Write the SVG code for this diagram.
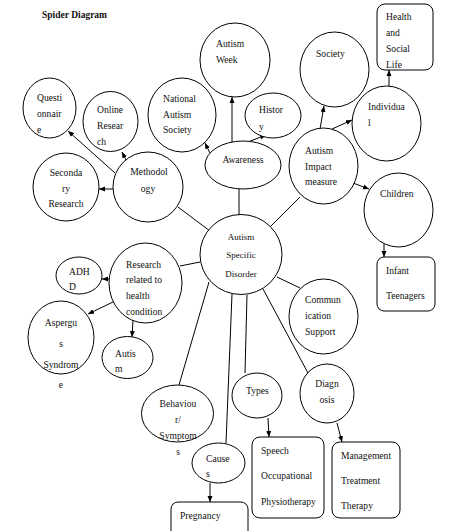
<svg xmlns="http://www.w3.org/2000/svg" width="457" height="531" viewBox="0 0 457 531">
<defs>
<marker id="ah" markerUnits="userSpaceOnUse" markerWidth="6" markerHeight="6" refX="6" refY="3" orient="auto">
<path d="M0,0.5 L6,3 L0,5.5 z" fill="#000"/>
</marker>
<style>
.n ellipse,.n rect{fill:#fff;stroke:#000;stroke-width:1}
text{font-family:"Liberation Serif","Times New Roman",serif;font-size:9.6px;fill:#111}
.c line{stroke:#000;stroke-width:1}
.c line.a{marker-end:url(#ah)}
.m{text-anchor:middle}
</style>
</defs>
<rect width="457" height="531" fill="#fff"/>
<text x="42" y="18" style="font-weight:bold;font-size:9.5px">Spider Diagram</text>

<g class="c" id="connectors">
<line x1="178" y1="207" x2="210" y2="231"/>
<line x1="239" y1="189" x2="239" y2="215"/>
<line x1="300" y1="197" x2="270" y2="227"/>
<line x1="277" y1="277" x2="300" y2="288"/>
<line x1="263" y1="289" x2="308" y2="373"/>
<line x1="247" y1="295" x2="245" y2="373"/>
<line x1="232" y1="294" x2="226" y2="443"/>
<line x1="209" y1="282" x2="179" y2="385"/>
<line x1="200" y1="262" x2="180" y2="266"/>
<line class="a" x1="115" y1="173" x2="68" y2="131"/>
<line class="a" x1="126" y1="160" x2="122" y2="152"/>
<line class="a" x1="113" y1="189" x2="99" y2="189"/>
<line class="a" x1="210" y1="153" x2="205" y2="143"/>
<line class="a" x1="232" y1="142" x2="232" y2="97"/>
<line class="a" x1="248" y1="142" x2="266" y2="135"/>
<line class="a" x1="320" y1="129" x2="324" y2="106"/>
<line class="a" x1="332" y1="129" x2="352" y2="120"/>
<line class="a" x1="353" y1="183" x2="369" y2="189"/>
<line class="a" x1="389" y1="86" x2="389" y2="70"/>
<line class="a" x1="384" y1="242" x2="384" y2="257"/>
<line class="a" x1="109" y1="279" x2="102" y2="279"/>
<line class="a" x1="113" y1="302" x2="88" y2="314"/>
<line class="a" x1="133" y1="320" x2="132" y2="337"/>
<line class="a" x1="268" y1="418" x2="269" y2="437"/>
<line class="a" x1="337" y1="423" x2="342" y2="442"/>
<line class="a" x1="210" y1="483" x2="210" y2="502"/>
</g>

<g class="n" id="questionnaire"><ellipse cx="49.5" cy="108" rx="26.5" ry="30"/><text x="37" y="101">Questi</text><text x="37" y="117">onnair</text><text x="37" y="133">e</text></g>
<g class="n" id="online-research"><ellipse cx="110.5" cy="121.5" rx="27.5" ry="30"/><text x="97" y="113">Online</text><text x="97" y="129">Resear</text><text x="97" y="145">ch</text></g>
<g class="n" id="national-autism-society"><ellipse cx="182" cy="115" rx="34" ry="37"/><text x="163" y="102">National</text><text x="163" y="118">Autism</text><text x="163" y="133">Society</text></g>
<g class="n" id="secondary-research"><ellipse cx="66" cy="187" rx="33" ry="34"/><text class="m" x="66" y="176">Seconda</text><text class="m" x="66" y="192">ry</text><text class="m" x="66" y="207">Research</text></g>
<g class="n" id="methodology"><ellipse cx="148" cy="187" rx="35" ry="35"/><text class="m" x="149" y="175">Methodol</text><text class="m" x="148" y="192">ogy</text></g>
<g class="n" id="autism-week"><ellipse cx="235" cy="60" rx="35" ry="37"/><text x="216" y="47">Autism</text><text x="216" y="63">Week</text></g>
<g class="n" id="history"><ellipse cx="273" cy="115.5" rx="28" ry="22.5"/><text x="259" y="113">Histor</text><text x="259" y="130">y</text></g>
<g class="n" id="awareness"><ellipse cx="243" cy="165" rx="38" ry="24"/><text class="m" x="243" y="163">Awareness</text></g>
<g class="n" id="society"><ellipse cx="334.5" cy="69.5" rx="34.5" ry="37.5"/><text x="316" y="57">Society</text></g>
<g class="n" id="individual"><ellipse cx="386.5" cy="123.5" rx="34.5" ry="37.5"/><text x="368" y="110">Individua</text><text x="368" y="126">l</text></g>
<g class="n" id="health-social-life"><rect x="377" y="4" width="56" height="66" rx="8"/><text x="386" y="20">Health</text><text x="386" y="36">and</text><text x="386" y="52">Social</text><text x="386" y="68">Life</text></g>
<g class="n" id="autism-impact-measure"><ellipse cx="323.5" cy="166" rx="34.5" ry="38"/><text x="305" y="154">Autism</text><text x="305" y="170">Impact</text><text x="305" y="185">measure</text></g>
<g class="n" id="children"><ellipse cx="398.5" cy="210" rx="34.5" ry="37"/><text x="380" y="197">Children</text></g>
<g class="n" id="infant-teenagers"><rect x="377" y="257" width="58" height="54" rx="7"/><text x="386" y="274">Infant</text><text x="386" y="299">Teenagers</text></g>
<g class="n" id="autism-specific-disorder"><ellipse cx="241" cy="254.5" rx="41" ry="40"/><text class="m" x="241" y="240" style="font-size:9px">Autism</text><text class="m" x="241" y="258" style="font-size:9px">Specific</text><text class="m" x="241" y="277" style="font-size:9px">Disorder</text></g>
<g class="n" id="communication-support"><ellipse cx="323.5" cy="316.5" rx="34.5" ry="37.5"/><text x="305" y="303">Commun</text><text x="305" y="319">ication</text><text x="305" y="335">Support</text></g>
<g class="n" id="research-health-condition"><ellipse cx="145.5" cy="283" rx="36.5" ry="40"/><text x="126" y="268">Research</text><text x="126" y="283">related to</text><text x="126" y="299">health</text><text x="126" y="315">condition</text></g>
<g class="n" id="adhd"><ellipse cx="79" cy="275.5" rx="23" ry="18.5"/><text x="69" y="275">ADH</text><text x="69" y="290">D</text></g>
<g class="n" id="aspergus-syndrome"><ellipse cx="61" cy="337.5" rx="33" ry="36.5"/><text class="m" x="61" y="326">Aspergu</text><text class="m" x="61" y="347">s</text><text class="m" x="61" y="368">Syndrom</text><text class="m" x="61" y="388">e</text></g>
<g class="n" id="autism"><ellipse cx="127.5" cy="357.5" rx="25.5" ry="21"/><text x="115" y="357">Autis</text><text x="115" y="372">m</text></g>
<g class="n" id="behaviour-symptoms"><ellipse cx="177.5" cy="413.5" rx="36" ry="28.5"/><text class="m" x="178" y="407">Behaviou</text><text class="m" x="178" y="423">r/</text><text class="m" x="178" y="439">Symptom</text><text class="m" x="178" y="455">s</text></g>
<g class="n" id="types"><ellipse cx="257" cy="395.5" rx="25" ry="22.5"/><text x="246" y="394">Types</text></g>
<g class="n" id="diagnosis"><ellipse cx="327" cy="393.5" rx="27" ry="29.5"/><text class="m" x="327" y="387">Diagn</text><text class="m" x="327" y="403">osis</text></g>
<g class="n" id="causes"><ellipse cx="218.5" cy="463" rx="26.5" ry="20"/><text x="206" y="462">Cause</text><text x="206" y="477">s</text></g>
<g class="n" id="pregnancy"><rect x="171" y="502" width="77" height="40" rx="7"/><text x="180" y="519">Pregnancy</text></g>
<g class="n" id="speech-types"><rect x="252" y="437" width="72" height="81" rx="8"/><text x="261" y="454">Speech</text><text x="261" y="479">Occupational</text><text x="261" y="505">Physiotherapy</text></g>
<g class="n" id="management"><rect x="332" y="442" width="68" height="76" rx="8"/><text x="341" y="459">Management</text><text x="341" y="484">Treatment</text><text x="341" y="509">Therapy</text></g>
</svg>
